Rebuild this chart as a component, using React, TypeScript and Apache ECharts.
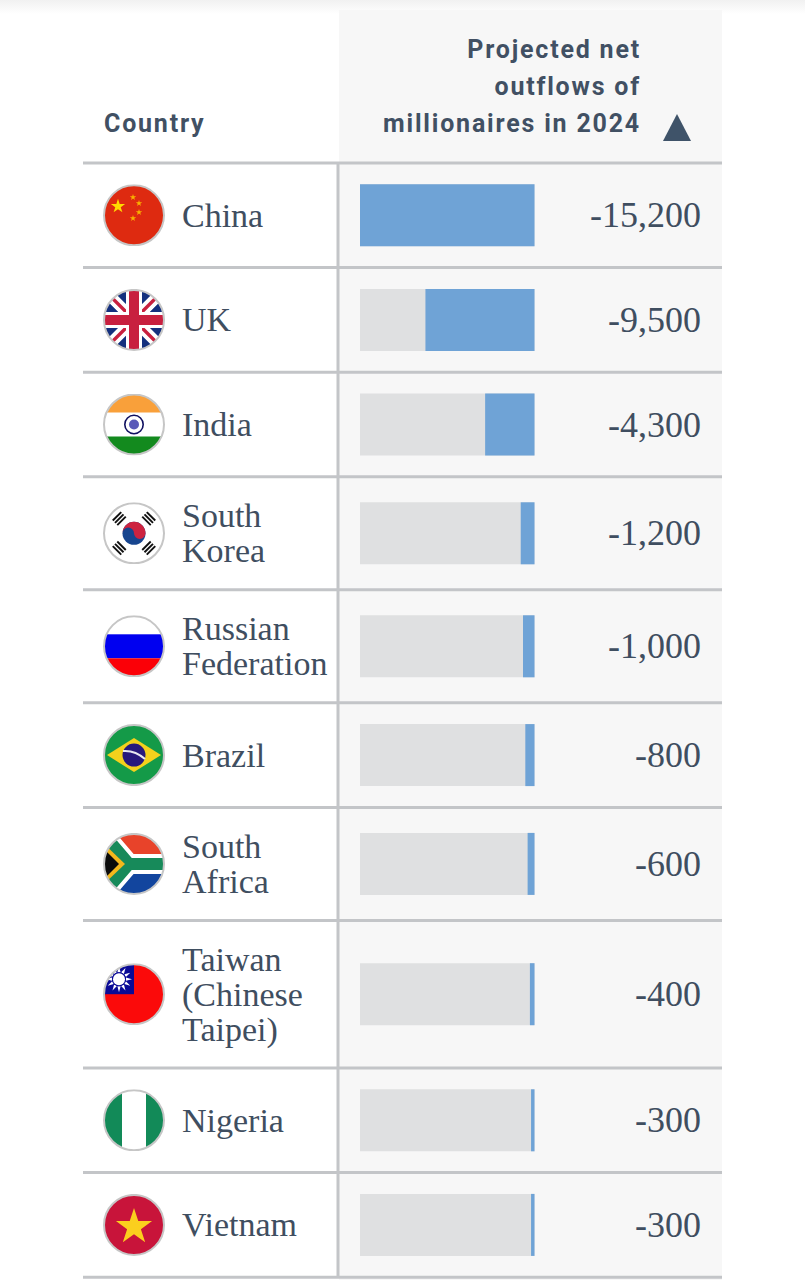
import React, { useEffect, useRef } from "react";
import * as echarts from "echarts";

const countries = ["China", "UK", "India", "South\nKorea", "Russian\nFederation", "Brazil", "South\nAfrica", "Taiwan\n(Chinese\nTaipei)", "Nigeria", "Vietnam"];
const outflows = [-15200, -9500, -4300, -1200, -1000, -800, -600, -400, -300, -300];
const headerCountry = "Country";
const headerValueLines = ["Projected net", "outflows of", "millionaires in 2024"];

const INK = "#3f4e60";
const HEAD = "#415063";
const RULE = "#c3c5c8";
const PANEL = "#f7f7f7";
const BLUE = "#6fa3d6";
const TRACK = "#dfe0e1";

const rowHeightByLines: Record<number, number> = { 1: 104.6, 2: 113, 3: 147.6 };
const tableTop = 163;

const star = (cx: number, cy: number, r: number, fill: string) => {
  const pts: string[] = [];
  for (let i = 0; i < 10; i++) {
    const rad = i % 2 ? r * 0.382 : r;
    const a = -Math.PI / 2 + (i * Math.PI) / 5;
    pts.push(`${(cx + rad * Math.cos(a)).toFixed(2)},${(cy + rad * Math.sin(a)).toFixed(2)}`);
  }
  return `<polygon points="${pts.join(" ")}" fill="${fill}"/>`;
};
const trigram = (deg: number) =>
  `<g transform="rotate(${deg} 31 31)">` +
  [0, 3.2, 6.4].map((d) => `<rect x="25" y="${6 + d}" width="12" height="1.9" fill="#111"/>`).join("") +
  `</g>`;
const rays = () =>
  Array.from({ length: 12 }, (_, i) =>
    `<polygon points="16,3 17.6,9 14.4,9" fill="#fff" transform="rotate(${i * 30} 16 16)"/>`
  ).join("");

const flagArt: string[] = [
  `<rect width="62" height="62" fill="#de2a10"/>` + star(15, 22, 7.5, "#ffdb00") +
    star(30, 13, 3.4, "#f9b200") + star(36, 19, 3.4, "#f9b200") + star(36, 28, 3.4, "#f9b200") + star(30, 34, 3.4, "#f9b200"),
  `<rect width="62" height="62" fill="#14307e"/>` +
    `<path d="M0 0L62 62M62 0L0 62" stroke="#fff" stroke-width="11"/>` +
    `<path d="M0 0L62 62M62 0L0 62" stroke="#c8203f" stroke-width="3.5"/>` +
    `<path d="M31 0V62M0 31H62" stroke="#fff" stroke-width="16"/>` +
    `<path d="M31 0V62M0 31H62" stroke="#c8203f" stroke-width="10"/>`,
  `<rect width="62" height="62" fill="#fff"/><rect width="62" height="19" fill="#f9a03a"/><rect y="43" width="62" height="19" fill="#138a1e"/>` +
    `<circle cx="31" cy="31" r="9.2" fill="#fff" stroke="#101060" stroke-width="1.6"/><circle cx="31" cy="31" r="5" fill="#5a5ab8"/>`,
  `<rect width="62" height="62" fill="#fff"/>` + trigram(45) + trigram(135) + trigram(225) + trigram(315) +
    `<circle cx="31" cy="31" r="11.5" fill="#17458f"/>` +
    `<path d="M19.5 31A11.5 11.5 0 0 1 42.5 31A5.75 5.75 0 0 1 31 31A5.75 5.75 0 0 0 19.5 31Z" fill="#cd2340"/>`,
  `<rect width="62" height="62" fill="#fff"/><rect y="19" width="62" height="24" fill="#0000f0"/><rect y="43" width="62" height="19" fill="#fb0007"/>`,
  `<rect width="62" height="62" fill="#149a48"/><polygon points="4,31 31,14 58,31 31,48" fill="#f4d11c"/>` +
    `<circle cx="31" cy="31" r="11.5" fill="#27197c"/><path d="M20 27Q32 26 42 35" stroke="#e8e8f0" stroke-width="2" fill="none"/>`,
  `<rect width="62" height="31" fill="#e8432a"/><rect y="31" width="62" height="31" fill="#12459e"/>` +
    `<path d="M-4 -4L26 31L-4 66M26 31H66" stroke="#fff" stroke-width="20" fill="none"/>` +
    `<path d="M-4 -4L26 31L-4 66M26 31H66" stroke="#178a5a" stroke-width="12" fill="none"/>` +
    `<polygon points="0,10 22,31 0,52" fill="#f4b81c"/><polygon points="0,15 16,31 0,47" fill="#0b0b0b"/>`,
  `<rect width="62" height="62" fill="#fb0a0a"/><rect width="31" height="31" fill="#0a0a96"/>` + rays() +
    `<circle cx="16" cy="16" r="7" fill="#0a0a96"/><circle cx="16" cy="16" r="6" fill="#fff"/>`,
  `<rect width="62" height="62" fill="#fff"/><rect width="19" height="62" fill="#128a58"/><rect x="43" width="19" height="62" fill="#128a58"/>`,
  `<rect width="62" height="62" fill="#c8143a"/>` + star(31, 33, 19, "#fbcf1e"),
];

const flagUri = (art: string) =>
  "data:image/svg+xml;charset=utf-8," +
  encodeURIComponent(
    `<svg xmlns="http://www.w3.org/2000/svg" width="62" height="62" viewBox="0 0 62 62"><defs><clipPath id="c"><circle cx="31" cy="31" r="30"/></clipPath></defs><g clip-path="url(#c)">${art}</g><circle cx="31" cy="31" r="30" fill="none" stroke="#c6c6c6" stroke-width="2"/></svg>`
  );

export default function App() {
  const ref = useRef<HTMLDivElement>(null);
  useEffect(() => {
    const chart = echarts.init(ref.current!, undefined, { renderer: "svg" });

    const heights = countries.map((c) => rowHeightByLines[c.split("\n").length]);
    const tops: number[] = [];
    heights.reduce((acc, h, i) => ((tops[i] = acc), acc + h), tableTop);
    const tableBottom = tops[tops.length - 1] + heights[heights.length - 1];

    const grids = countries.map((_, i) => ({ left: 360, width: 174.5, top: tops[i], height: heights[i], containLabel: false }));
    const xAxes = countries.map((_, i) => ({ type: "value", gridIndex: i, min: outflows[0], max: 0, show: false }));
    const yAxes: any[] = [];
    const series: any[] = [];
    countries.forEach((name, i) => {
      yAxes.push({
        type: "category", gridIndex: i, position: "left", data: [name],
        axisLine: { show: false }, axisTick: { show: false }, splitLine: { show: false },
        axisLabel: { align: "left", margin: 178, color: INK, fontFamily: "Liberation Serif", fontSize: 34, lineHeight: 35, padding: [name.includes("\n") ? 2 : 0, 0, 0, 0] },
      });
      yAxes.push({
        type: "category", gridIndex: i, position: "right", data: [outflows[i].toLocaleString("en-US")],
        axisLine: { show: false }, axisTick: { show: false }, splitLine: { show: false },
        axisLabel: { align: "right", margin: 166.5, color: INK, fontFamily: "Liberation Serif", fontSize: 36 },
      });
      series.push({
        type: "bar", xAxisIndex: i, yAxisIndex: i * 2, data: [outflows[i]], barWidth: 62,
        itemStyle: { color: BLUE }, showBackground: true, backgroundStyle: { color: TRACK }, silent: true,
      });
    });

    const elements: any[] = [
      {
        type: "rect", shape: { x: 0, y: 0, width: 805, height: 14 },
        style: { fill: new echarts.graphic.LinearGradient(0, 0, 0, 1, [{ offset: 0, color: "#f1f1f1" }, { offset: 1, color: "#ffffff" }]) },
      },
      { type: "rect", shape: { x: 339, y: 10, width: 383, height: 1270 }, style: { fill: PANEL } },
      { type: "text", x: 104, y: 123, style: { text: headerCountry, fill: HEAD, font: "700 25px Roboto", textAlign: "left", textVerticalAlign: "middle" } },
      ...headerValueLines.map((t, i) => ({
        type: "text", x: 641, y: 49 + i * 37, style: { text: t, fill: HEAD, font: "700 25px Roboto", textAlign: "right", textVerticalAlign: "middle" },
      })),
      { type: "polygon", shape: { points: [[663, 141], [691, 141], [677, 114]] }, style: { fill: "#3f5369" } },
      { type: "line", shape: { x1: 338, y1: tableTop, x2: 338, y2: tableBottom }, style: { stroke: RULE, lineWidth: 3 } },
      { type: "line", shape: { x1: 83, y1: tableTop, x2: 722, y2: tableTop }, style: { stroke: RULE, lineWidth: 3 } },
      ...countries.map((_, i) => ({
        type: "line", shape: { x1: 83, y1: tops[i] + heights[i], x2: 722, y2: tops[i] + heights[i] }, style: { stroke: RULE, lineWidth: 3 },
      })),
      ...flagArt.map((art, i) => ({
        type: "image", x: 103, y: tops[i] + heights[i] / 2 - 31,
        style: { image: flagUri(art), width: 62, height: 62 },
      })),
    ];

    chart.setOption({
      animation: false,
      backgroundColor: "#ffffff",
      grid: grids,
      xAxis: xAxes,
      yAxis: yAxes,
      series,
      graphic: { elements },
    });
    return () => chart.dispose();
  }, []);

  return (
    <>
      <style>{`body{margin:0} svg text[style*="Roboto"]{letter-spacing:1.8px}`}</style>
      <div ref={ref} style={{ position: "absolute", left: 0, top: 0, width: 805, height: 1280 }} />
    </>
  );
}
